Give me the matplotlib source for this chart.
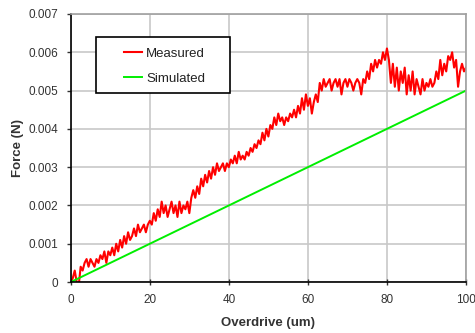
import numpy as np
import matplotlib
matplotlib.use("Agg")
import matplotlib.pyplot as plt
from matplotlib.patches import Rectangle

plt.rcParams['font.family'] = ['Liberation Sans', 'DejaVu Sans']

# measured force, one reading every 0.5 um of overdrive (0 .. 100)
measured = [
    0.0000, 0.0001, 0.0003, 0.0000, -0.0001, 0.0004, 0.0003, 0.0005, 0.0006, 0.0004, 0.0006,
    0.0005, 0.0004, 0.0006, 0.0005, 0.0007, 0.0006, 0.0008, 0.0005, 0.0008, 0.0007,
    0.0009, 0.0007, 0.0010, 0.0008, 0.0011, 0.0009, 0.0012, 0.0010, 0.0013, 0.0011,
    0.0012, 0.0014, 0.0012, 0.0015, 0.0013, 0.0014, 0.0015, 0.0013, 0.0015, 0.0016,
    0.0015, 0.0018, 0.0016, 0.0019, 0.0017, 0.0021, 0.0018, 0.0020, 0.0017, 0.0019,
    0.0021, 0.0018, 0.0020, 0.0017, 0.0021, 0.0018, 0.0020, 0.0019, 0.0021, 0.0018,
    0.0022, 0.0024, 0.0022, 0.0025, 0.0023, 0.0027, 0.0025, 0.0028, 0.0026, 0.0029,
    0.0027, 0.0030, 0.0028, 0.0031, 0.0029, 0.0030, 0.0031, 0.0029, 0.0031, 0.0030,
    0.0032, 0.0031, 0.0033, 0.0031, 0.0034, 0.0032, 0.0033, 0.0032, 0.0034, 0.0033,
    0.0035, 0.0034, 0.0036, 0.0035, 0.0037, 0.0036, 0.0039, 0.0037, 0.0040, 0.0038,
    0.0041, 0.0040, 0.0043, 0.0041, 0.0044, 0.0042, 0.0043, 0.0041, 0.0043, 0.0042,
    0.0044, 0.0043, 0.0045, 0.0043, 0.0046, 0.0044, 0.0048, 0.0045, 0.0049, 0.0046,
    0.0048, 0.0044, 0.0047, 0.0049, 0.0047, 0.0052, 0.0050, 0.0053, 0.0051, 0.0052,
    0.0053, 0.0050, 0.0052, 0.0053, 0.0051, 0.0053, 0.0049, 0.0052, 0.0053, 0.0051,
    0.0053, 0.0052, 0.0050, 0.0052, 0.0053, 0.0052, 0.0049, 0.0053, 0.0052, 0.0055,
    0.0053, 0.0057, 0.0055, 0.0058, 0.0056, 0.0058, 0.0057, 0.0060, 0.0058, 0.0061,
    0.0058, 0.0052, 0.0057, 0.0051, 0.0056, 0.0050, 0.0055, 0.0052, 0.0056, 0.0049,
    0.0054, 0.0050, 0.0055, 0.0049, 0.0053, 0.0051, 0.0049, 0.0053, 0.0050, 0.0052,
    0.0051, 0.0053, 0.0051, 0.0052, 0.0055, 0.0053, 0.0058, 0.0054, 0.0057, 0.0055,
    0.0059, 0.0058, 0.0060, 0.0056, 0.0058, 0.0051, 0.0055, 0.0057, 0.0055, 0.0056,
]
overdrive = np.linspace(0, 100, len(measured))

sim_x = [0, 100]
sim_y = [0.0, 0.005]

xticks = [0, 20, 40, 60, 80, 100]
yticks = [0, 0.001, 0.002, 0.003, 0.004, 0.005, 0.006, 0.007]
ylabels = ['0', '0.001', '0.002', '0.003', '0.004', '0.005', '0.006', '0.007']

fig = plt.figure(figsize=(4.75, 3.33), dpi=100)
ax = fig.add_axes([0.149, 0.153, 0.832, 0.805])

ax.plot(overdrive, measured, color='#ff0000', lw=1.5, label='Measured')
ax.plot(sim_x, sim_y, color='#00ee00', lw=1.4, label='Simulated')

ax.set_xlim(0, 100)
ax.set_ylim(0, 0.007)
ax.set_xticks(xticks)
ax.set_yticks(yticks)
ax.set_yticklabels(ylabels)
ax.grid(True, color='#c8c8c8', lw=1.2)
ax.set_axisbelow(True)

for s in ['top', 'right']:
    ax.spines[s].set_color('#a0a0a0')
    ax.spines[s].set_linewidth(1.2)
for s in ['left', 'bottom']:
    ax.spines[s].set_color('black')
    ax.spines[s].set_linewidth(1.2)

ax.tick_params(axis='both', labelsize=8.5, colors='#333333', width=1)
ax.tick_params(axis='x', direction='inout', length=5, pad=6)
ax.tick_params(axis='y', direction='out', length=3, pad=6)

ax.set_xlabel('Overdrive (um)', fontsize=9.5, fontweight='bold', color='#333333', labelpad=8)
ax.set_ylabel('Force (N)', fontsize=9.5, fontweight='bold', color='#333333', labelpad=3)

# legend box drawn separately so the inner spacing matches
ax.add_patch(Rectangle((0.063, 0.705), 0.339, 0.209, transform=ax.transAxes,
                       facecolor='white', edgecolor='black', lw=1.2, zorder=5))
leg = ax.legend(loc='upper left', bbox_to_anchor=(0.134, 0.874), fontsize=9.5,
                frameon=False, handlelength=1.4, labelspacing=0.95, borderpad=0,
                borderaxespad=0, handletextpad=0.3)
leg.set_zorder(6)
for t in leg.get_texts():
    t.set_color('#222222')

fig.savefig('out.png', dpi=100)
